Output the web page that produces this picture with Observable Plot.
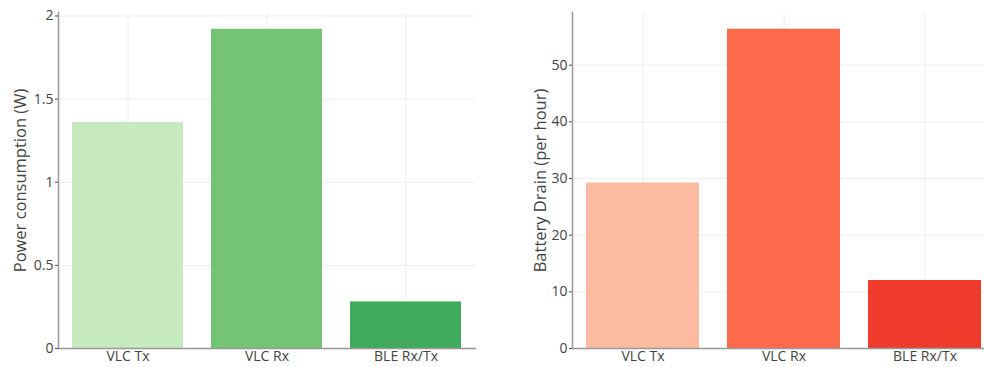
<!DOCTYPE html>
<html>
<head>
<meta charset="utf-8">
<script src="https://cdn.jsdelivr.net/npm/d3@7"></script>
<script src="https://cdn.jsdelivr.net/npm/@observablehq/plot@0.6"></script>
<style>
  html, body { margin: 0; padding: 0; background: #fff; overflow: hidden; }
  #wrap { position: relative; width: 984px; height: 367px; overflow: hidden; }
  #left { position: absolute; left: 0; top: 0; width: 492px; }
  #right { position: absolute; left: 492px; top: 0; width: 504px; }
  #wrap svg { overflow: visible; max-width: none !important; color: #444 !important; }
  #wrap svg text { font-family: "Open Sans", sans-serif !important; font-size: 14px !important; fill: #444; }
  #wrap svg g[aria-label="text"] text { font-size: 16.5px !important; }
</style>
</head>
<body>
<div id="wrap"><div id="left"></div><div id="right"></div></div>
<script>
const categories = ["VLC Tx", "VLC Rx", "BLE Rx/Tx"];
const powerValues = [1.36, 1.92, 0.28];
const drainValues = [29.2, 56.35, 12.0];
const greenColors = ["#c7e9c0", "#74c476", "#41ab5d"];
const redColors = ["#fcbba1", "#fb6a4a", "#ef3b2c"];
const powerTicks = [0, 0.5, 1, 1.5, 2];
const drainTicks = [0, 10, 20, 30, 40, 50];

function panel({values, colors, ticks, yMax, label, width, marginLeft, marginRight, labelDx}) {
  const data = categories.map((c, i) => ({cat: c, value: values[i], color: colors[i]}));
  return Plot.plot({
    width, height: 367,
    marginTop: 12, marginBottom: 19, marginLeft, marginRight,
    style: {background: "#fff", maxWidth: "none"},
    x: {domain: categories, paddingInner: 0.2, paddingOuter: 0.1, label: null, tickSize: 0, tickPadding: 3},
    y: {domain: [0, yMax], ticks, tickFormat: d => String(d), label: null, tickSize: 3, tickPadding: 2},
    marks: [
      Plot.gridX(categories, {stroke: "#eee", strokeOpacity: 1}),
      Plot.gridY(ticks, {stroke: "#eee", strokeOpacity: 1}),
      Plot.barY(data, {x: "cat", y: "value", fill: "color"}),
      Plot.frame({anchor: "left", stroke: "#999", strokeWidth: 1.5}),
      Plot.frame({anchor: "bottom", stroke: "#999", strokeWidth: 1.5}),
      Plot.text([label], {frameAnchor: "left", rotate: -90, dx: labelDx, fontSize: 16, fill: "#444", textAnchor: "middle"})
    ]
  });
}

const left = panel({values: powerValues, colors: greenColors, ticks: powerTicks, yMax: 2.021,
  label: "Power consumption (W)", width: 492, marginLeft: 58, marginRight: 17, labelDx: -38});
const right = panel({values: drainValues, colors: redColors, ticks: drainTicks, yMax: 59.3,
  label: "Battery Drain (per hour)", width: 504, marginLeft: 80, marginRight: 1, labelDx: -32});

document.getElementById("left").appendChild(left);
document.getElementById("right").appendChild(right);
</script>
</body>
</html>
